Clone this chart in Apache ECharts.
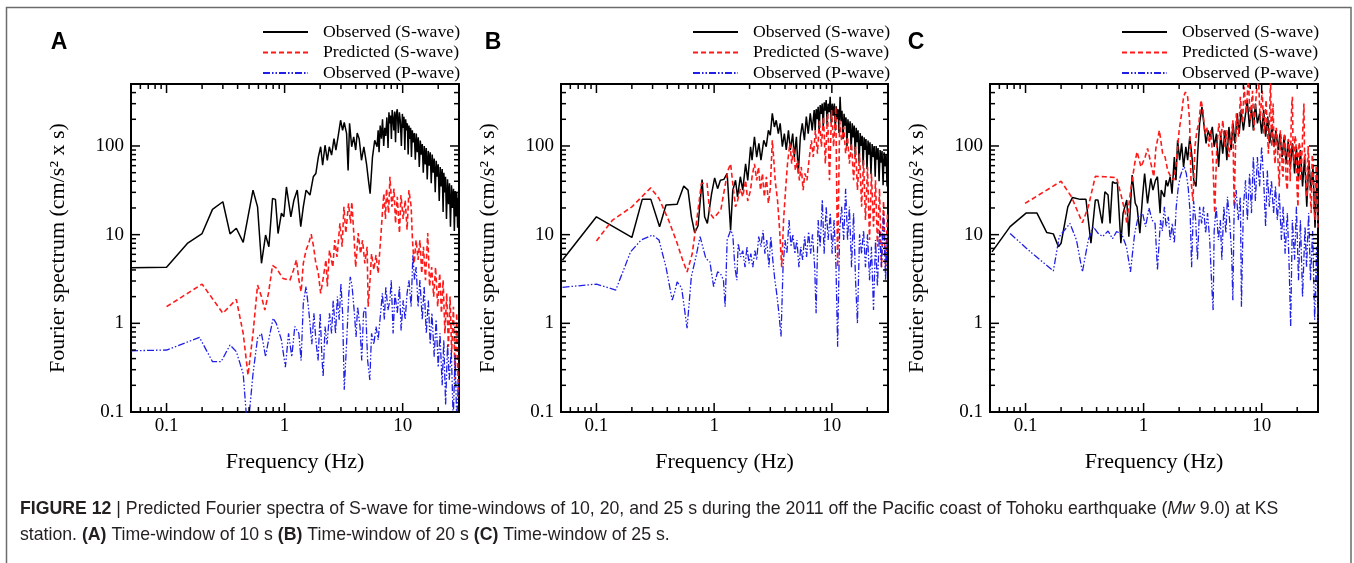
<!DOCTYPE html>
<html><head><meta charset="utf-8">
<script src="https://cdn.jsdelivr.net/npm/echarts@6/dist/echarts.min.js"></script>
<style>html,body{margin:0;padding:0;background:#fff}#c{width:1354px;height:563px}</style>
</head><body><div id="c"></div>
<script>
// ---- tick labels & tick positions ----
const xTickLabels = ['0.1', '1', '10'];
const yTickLabels = ['0.1', '1', '10', '100'];
const xMajorTicks = [0.1, 1, 10];
const xMinorTicks = [0.06, 0.07, 0.08, 0.09, 0.2, 0.3, 0.4, 0.5, 0.6, 0.7, 0.8, 0.9, 2, 3, 4, 5, 6, 7, 8, 9, 20];
const yMajorTicks = [0.1, 1, 10, 100];
const yMinorTicks = [0.2, 0.3, 0.4, 0.5, 0.6, 0.7, 0.8, 0.9, 2, 3, 4, 5, 6, 7, 8, 9, 20, 30, 40, 50, 60, 70, 80, 90, 200, 300, 400];
const seriesNames = ['Observed (S-wave)', 'Predicted (S-wave)', 'Observed (P-wave)'];
const panelLabels = ['A', 'B', 'C'];

// ---- Panel A (time-window 10 s) ----
const A_obsS = [[0.05,4.24],[0.1,4.3],[0.15,7.96],[0.2,10.3],[0.245,19.3],[0.3,23.5],[0.345,10.2],[0.39,11.8],[0.446,8.2],[0.54,31.8],[0.59,20.6],[0.637,4.75],[0.69,9.9],[0.736,7.3],[0.79,25.6],[0.836,25],[0.88,10.3],[0.94,17.5],[0.985,15.9],[1.036,34.5],[1.13,15.9],[1.2,24.6],[1.23,25.6],[1.28,31.8],[1.37,12.3],[1.44,20.6],[1.52,31.8],[1.64,28],[1.75,44.9],[1.84,49],[1.93,75],[2.02,98],[2.1,60.6],[2.2,102],[2.3,69],[2.39,98],[2.5,79],[2.62,121],[2.72,90],[2.85,132],[2.98,195],[3.1,150],[3.2,185],[3.35,138],[3.45,53],[3.55,180],[3.7,98],[3.85,127],[4.0,90],[4.12,140],[4.28,121],[4.48,69],[4.69,98],[4.94,63],[5.13,41],[5.3,29],[5.55,75],[5.8,116],[6.07,98],[6.2,150],[6.31,85],[6.45,170],[6.61,121],[6.75,200],[6.91,100],[7.05,160],[7.19,130],[7.35,210],[7.52,95],[7.65,240],[7.77,180],[7.9,220],[8.03,120],[8.15,254],[8.29,200],[8.42,150],[8.56,244],[8.7,110],[8.84,230],[9.0,260],[9.19,140],[9.38,240],[9.56,190],[9.75,100],[9.94,230],[10.1,160],[10.26,214],[10.43,90],[10.6,200],[10.78,150],[10.95,180],[11.13,80],[11.31,170],[11.5,120],[11.68,160],[11.87,75],[12.07,150],[12.3,110],[12.55,140],[12.8,70],[13.04,138],[13.3,85],[13.56,125],[13.83,58],[14.1,115],[14.38,80],[14.66,105],[14.95,50],[15.24,100],[15.54,62],[15.84,95],[16.15,42],[16.47,88],[16.8,60],[17.13,85],[17.46,38],[17.8,80],[18.15,50],[18.51,72],[18.87,30],[19.24,68],[19.62,45],[20,62],[20.4,24],[20.8,58],[21.2,35],[21.62,55],[22,18],[22.33,50],[22.7,30],[23.07,45],[23.5,15],[23.98,42],[24.45,22],[24.93,38],[25.4,12.3],[25.92,36],[26.4,20],[26.94,33],[27.4,11],[27.83,31],[28.3,16],[28.74,30],[29.2,12],[29.7,26]];
const A_predS = [[0.1,1.54],[0.2,2.77],[0.3,1.3],[0.39,1.86],[0.446,0.77],[0.49,0.26],[0.54,0.77],[0.59,2.7],[0.637,2.0],[0.68,1.41],[0.73,2.18],[0.79,4.5],[0.85,4.2],[0.97,3.2],[1.11,3.07],[1.19,4.0],[1.26,5.2],[1.32,3.1],[1.38,2.27],[1.44,4.75],[1.52,6.7],[1.6,8],[1.68,10.1],[1.76,7.3],[1.83,4.95],[1.93,3.66],[2.02,2.18],[2.12,3.2],[2.24,5.2],[2.3,2.6],[2.4,6.7],[2.56,4.3],[2.66,8.7],[2.78,5.6],[2.94,13.4],[3.07,7.3],[3.18,20.6],[3.3,10.4],[3.48,22.5],[3.62,13.4],[3.71,23.4],[3.87,9.5],[4.0,4.3],[4.2,10.4],[4.4,6.1],[4.57,8.7],[4.78,4.75],[5.0,7.3],[5.1,1.54],[5.3,3.2],[5.45,6.1],[5.7,4.0],[5.95,5.9],[6.2,3.66],[6.5,8.7],[6.73,17.5],[6.93,29],[7.15,15],[7.3,33],[7.6,17.5],[7.8,45],[8.1,20.6],[8.45,33],[8.7,13.4],[9.0,26.7],[9.4,10.4],[9.67,28],[10.1,15],[10.5,24.5],[10.9,11.4],[11.3,31.8],[11.8,20.6],[12.1,8.7],[12.5,4.75],[13.0,8.7],[13.5,5.2],[14.0,8.7],[14.5,3.66],[15.0,7.3],[15.6,3.07],[16.3,10.4],[16.9,2.6],[17.6,4.3],[18.3,2.0],[19.0,4.3],[19.8,1.54],[20.6,3.66],[21.3,1.3],[22.0,3.07],[22.8,0.77],[23.6,2.18],[24.4,0.545],[25.2,2.0],[26.0,0.47],[26.9,1.54],[27.8,0.23],[28.7,1.3],[29.6,0.15]];
const A_obsP = [[0.05,0.49],[0.1,0.5],[0.19,0.695],[0.245,0.37],[0.29,0.37],[0.345,0.57],[0.39,0.48],[0.446,0.27],[0.475,0.09],[0.5,0.09],[0.54,0.27],[0.59,0.68],[0.637,0.77],[0.69,0.42],[0.72,0.58],[0.8,1.14],[0.85,1.0],[0.94,0.65],[1.015,0.32],[1.08,0.77],[1.15,0.42],[1.22,0.92],[1.26,0.92],[1.32,0.77],[1.38,0.38],[1.44,1.68],[1.52,2.6],[1.6,1.41],[1.65,0.92],[1.7,0.58],[1.77,1.3],[1.84,0.65],[1.92,0.38],[2.0,1.3],[2.07,0.42],[2.12,0.25],[2.2,0.92],[2.29,0.58],[2.4,1.3],[2.5,0.77],[2.58,1.82],[2.7,0.77],[2.8,2.0],[2.9,1.1],[3.0,2.8],[3.1,1.3],[3.2,0.178],[3.36,0.65],[3.5,2.18],[3.6,3.35],[3.73,2.6],[3.9,1.3],[4.03,0.7],[4.15,1.54],[4.35,0.92],[4.5,0.38],[4.66,1.3],[4.85,1.54],[5.05,0.38],[5.27,0.23],[5.45,0.77],[5.7,0.58],[5.95,0.92],[6.2,0.65],[6.5,1.3],[6.73,2.18],[7.0,1.1],[7.2,2.6],[7.5,1.41],[7.8,1.82],[8.0,3.07],[8.3,0.77],[8.6,2.18],[9.0,1.3],[9.4,2.6],[9.7,0.83],[10.1,1.82],[10.5,1.1],[10.9,2.18],[11.3,3.07],[11.8,1.54],[12.2,5.9],[12.6,3.07],[13.0,4.3],[13.5,1.54],[14.0,3.07],[14.65,1.1],[15.2,2.6],[15.85,0.77],[16.5,1.82],[17.1,0.58],[17.7,1.3],[18.5,0.42],[19.2,1.1],[20,0.32],[20.7,0.77],[21.6,0.2],[22.3,0.65],[23.1,0.12],[24,0.58],[24.8,0.23],[25.8,0.5],[26.8,0.08],[27.8,0.44],[28.7,0.08],[29.7,0.23]];

// ---- Panel B (time-window 20 s) ----
const B_obsS = [[0.0515,5.17],[0.1,15.9],[0.2,9.3],[0.245,25],[0.29,25],[0.344,12.3],[0.39,21.6],[0.485,22],[0.552,35.3],[0.6,31.8],[0.641,15.9],[0.684,10.5],[0.73,12.6],[0.79,41.8],[0.83,15.9],[0.876,13.4],[0.95,28.7],[1.01,43.6],[1.07,33],[1.13,41],[1.21,42],[1.29,49],[1.38,11.2],[1.44,31.8],[1.52,41],[1.58,26.7],[1.67,45],[1.75,31.8],[1.85,63],[1.93,41],[2.04,98],[2.1,69],[2.2,127],[2.3,75],[2.4,107],[2.5,69],[2.64,116],[2.77,98],[2.89,150],[3.0,132],[3.12,233],[3.25,164],[3.37,195],[3.51,138],[3.64,180],[3.8,98],[3.95,138],[4.1,90],[4.28,150],[4.44,90],[4.65,138],[4.8,75],[5.0,127],[5.19,49],[5.4,127],[5.61,180],[5.85,116],[6.07,214],[6.3,138],[6.56,233],[6.81,150],[7.08,254],[7.22,150],[7.36,260],[7.5,200],[7.65,277],[7.8,140],[7.96,290],[8.12,230],[8.28,301],[8.45,160],[8.61,310],[8.78,250],[8.95,330],[9.12,170],[9.3,300],[9.5,240],[9.68,358],[9.88,180],[10.07,300],[10.3,220],[10.5,301],[10.7,150],[10.9,280],[11.1,200],[11.3,260],[11.5,140],[11.75,358],[12.0,190],[12.2,250],[12.45,120],[12.7,230],[12.95,170],[13.2,210],[13.45,100],[13.7,200],[14.0,140],[14.3,190],[14.6,90],[14.9,180],[15.2,125],[15.5,170],[15.8,75],[16.1,160],[16.4,110],[16.7,150],[17.05,65],[17.4,140],[17.75,100],[18.1,130],[18.45,60],[18.8,125],[19.15,90],[19.5,120],[19.9,55],[20.3,115],[20.7,80],[21.1,110],[21.5,48],[22,105],[22.45,75],[22.9,100],[23.35,45],[23.8,100],[24.25,70],[24.7,95],[25.2,40],[25.7,90],[26.2,65],[26.7,88],[27.25,36],[27.8,85],[28.35,60],[28.9,80],[29.45,35],[30,60]];
const B_predS = [[0.1,8.5],[0.137,14.6],[0.2,20.6],[0.289,33.7],[0.34,25.6],[0.41,14.6],[0.485,8],[0.54,5.17],[0.589,3.8],[0.65,6.0],[0.7,12.3],[0.78,38],[0.87,38],[0.92,17.5],[0.99,15.3],[1.09,17.8],[1.14,19],[1.22,31.8],[1.31,53],[1.38,63],[1.43,41],[1.52,20.6],[1.58,24],[1.67,33],[1.75,26.7],[1.85,41],[1.93,24],[2.04,31.8],[2.1,45],[2.2,63],[2.3,41],[2.38,58],[2.48,31.8],[2.57,49],[2.67,26.7],[2.78,45],[2.89,22.5],[3.0,33],[3.12,116],[3.2,75],[3.3,41],[3.46,24],[3.6,11.3],[3.75,4.3],[3.89,14.6],[4.05,33],[4.2,63],[4.4,107],[4.56,63],[4.73,98],[4.9,53],[5.1,69],[5.3,41],[5.5,58],[5.7,31.8],[5.9,49],[6.15,41],[6.4,69],[6.7,116],[6.95,75],[7.25,150],[7.55,82],[7.85,195],[8.15,98],[8.5,214],[8.8,63],[9.2,233],[9.55,41],[9.95,254],[10.35,98],[10.8,277],[11.2,4.3],[11.65,195],[12.1,116],[12.6,164],[13.1,82],[13.6,127],[14.1,63],[14.7,107],[15.3,41],[15.9,98],[16.5,31.8],[17.2,82],[17.9,20.6],[18.6,69],[19.3,14.6],[20.1,58],[20.9,8.7],[21.7,49],[22.6,12.3],[23.5,41],[24.4,7.3],[25.4,33],[26.4,4.3],[27.5,24],[28.6,4.3],[29.7,17.5]];
const B_obsP = [[0.0515,2.55],[0.1,2.77],[0.146,2.37],[0.195,6.4],[0.24,8.7],[0.3,9.9],[0.34,8.7],[0.39,4.3],[0.44,1.83],[0.46,2.2],[0.485,2.94],[0.53,2.5],[0.589,0.88],[0.64,3.35],[0.7,5.6],[0.76,9.5],[0.8,7.3],[0.85,5.4],[0.92,4.95],[0.99,2.6],[1.07,3.8],[1.13,3.66],[1.2,3.07],[1.24,1.54],[1.29,8.7],[1.38,11.2],[1.44,10.1],[1.5,4.3],[1.56,3.07],[1.6,8],[1.68,5.6],[1.75,6.6],[1.83,4.3],[1.9,7.3],[1.98,4.75],[2.05,6.1],[2.13,4.3],[2.22,6.6],[2.3,5.2],[2.39,9.5],[2.5,7.3],[2.6,11.2],[2.7,6.1],[2.8,8.7],[2.92,4.3],[3.03,9.5],[3.15,5.2],[3.28,3.07],[3.4,2.18],[3.55,1.3],[3.7,0.71],[3.85,4.3],[4.0,8.7],[4.15,6.1],[4.33,14.6],[4.5,7.3],[4.67,10.1],[4.85,6.1],[5.05,8.7],[5.25,4.3],[5.45,7.3],[5.65,5.2],[5.87,9.5],[6.1,5.6],[6.35,10.8],[6.6,6.1],[6.85,10.1],[7.15,4.3],[7.35,1.3],[7.65,14.6],[7.95,7.3],[8.3,24.6],[8.6,6.1],[8.95,20.6],[9.3,8.7],[9.7,17.5],[10.05,6.1],[10.45,14.6],[10.85,4.3],[11.2,0.545],[11.65,11.2],[12.1,20.6],[12.6,8.7],[13.1,33],[13.6,8.7],[14.1,20.6],[14.7,4.3],[15.3,17.5],[15.9,3.07],[16.5,1.0],[17.2,10.1],[17.9,6.1],[18.6,11.2],[19.3,4.3],[20.1,10.1],[20.9,3.07],[21.7,7.3],[22.6,1.41],[23.5,8.7],[24.4,2.6],[25.4,11.2],[26.4,4.3],[27.5,17.5],[28.6,3.07],[29.7,10.1]];

// ---- Panel C (time-window 25 s) ----
const C_obsS = [[0.052,6.4],[0.074,12.3],[0.101,17.5],[0.125,17.5],[0.151,10.6],[0.172,10.2],[0.19,7.3],[0.2,8],[0.228,20.6],[0.25,26.3],[0.29,25],[0.325,25],[0.358,8],[0.39,24.6],[0.41,24.6],[0.446,13.4],[0.47,30.5],[0.5,28],[0.52,13.4],[0.545,39.5],[0.57,38],[0.6,38.5],[0.642,8],[0.67,17.5],[0.72,24.6],[0.75,9.5],[0.8,47],[0.85,22.5],[0.88,20.6],[0.93,10.4],[0.98,27],[1.02,49],[1.08,22.5],[1.15,43],[1.2,31.8],[1.26,41],[1.31,45],[1.38,17.5],[1.41,31.8],[1.5,26.7],[1.55,41],[1.6,35],[1.68,45],[1.74,29],[1.82,75],[1.88,41],[1.94,116],[2.02,69],[2.1,107],[2.18,58],[2.28,98],[2.36,69],[2.46,127],[2.57,75],[2.66,41],[2.78,35],[2.87,82],[2.98,180],[3.12,277],[3.26,164],[3.38,107],[3.52,150],[3.66,127],[3.82,164],[3.96,98],[4.14,138],[4.32,58],[4.5,138],[4.68,82],[4.88,150],[5.07,69],[5.28,164],[5.5,90],[5.72,180],[5.95,107],[6.2,233],[6.45,138],[6.7,254],[7.0,150],[7.25,214],[7.55,330],[7.87,164],[8.2,277],[8.5,150],[8.85,301],[9.2,180],[9.6,233],[10.0,138],[10.4,254],[10.8,127],[11.25,214],[11.7,107],[12.2,164],[12.7,98],[13.2,150],[13.8,90],[14.3,138],[14.9,75],[15.5,127],[16.1,63],[16.8,116],[17.5,58],[18.2,107],[19,49],[19.7,98],[20.5,41],[21.3,90],[22.2,35],[23.1,75],[24.1,20.6],[25.1,69],[26.1,31.8],[27.2,58],[28.3,12],[29.4,49],[30,26.7]];
const C_predS = [[0.099,22.5],[0.2,40],[0.245,26.7],[0.303,13.6],[0.34,20.6],[0.39,45.5],[0.47,45],[0.59,44],[0.65,26.7],[0.7,17.5],[0.72,13.4],[0.77,29],[0.84,63],[0.88,86],[0.95,58],[1.03,75],[1.08,94],[1.17,58],[1.22,45],[1.27,94],[1.36,150],[1.45,82],[1.52,75],[1.6,53],[1.7,45],[1.8,41],[1.87,58],[1.94,94],[2.0,150],[2.1,233],[2.18,358],[2.26,405],[2.36,358],[2.45,195],[2.52,41],[2.62,24],[2.72,98],[2.83,150],[2.94,180],[3.06,330],[3.18,254],[3.3,138],[3.43,164],[3.57,98],[3.71,150],[3.86,69],[4.0,17.5],[4.17,98],[4.34,180],[4.5,116],[4.69,195],[4.87,98],[5.07,150],[5.27,75],[5.48,116],[5.7,195],[5.84,20.6],[6.1,233],[6.37,127],[6.6,358],[6.9,180],[7.1,465],[7.4,233],[7.7,600],[8.0,195],[8.37,420],[8.6,150],[9.0,390],[9.4,600],[9.7,195],[10.1,420],[10.46,138],[10.9,330],[11.4,82],[11.65,200],[11.9,600],[12.05,150],[12.2,98],[12.35,200],[12.5,301],[12.75,80],[13.0,63],[13.3,160],[13.56,127],[13.8,60],[14.1,35],[14.4,150],[14.7,116],[14.95,50],[15.2,45],[15.5,130],[15.8,138],[16.1,40],[16.5,31.8],[16.8,120],[17.1,107],[17.45,40],[17.8,195],[18.0,300],[18.2,358],[18.45,90],[18.75,63],[19.1,130],[19.5,116],[19.9,35],[20.3,20.6],[20.7,110],[21.1,98],[21.5,40],[21.9,41],[22.3,150],[22.8,301],[23.1,70],[23.4,82],[23.85,30],[24.3,26.7],[24.75,100],[25.2,98],[25.75,30],[26.3,17.5],[26.8,80],[27.3,63],[27.85,20],[28.4,14.6],[28.95,60],[29.5,41],[29.9,12]];
const C_obsP = [[0.074,10.3],[0.113,6.2],[0.172,3.9],[0.193,9.5],[0.238,13.4],[0.27,8.7],[0.303,3.8],[0.34,8.7],[0.375,12.3],[0.41,10.4],[0.45,9.5],[0.5,11],[0.545,9],[0.59,10.8],[0.65,10.3],[0.716,7.3],[0.774,3.8],[0.84,10.3],[0.9,15.9],[0.98,17.5],[1.04,12.3],[1.11,20],[1.18,14.6],[1.25,13.4],[1.31,4.0],[1.39,14.6],[1.44,11],[1.5,20.6],[1.55,12.3],[1.62,15.9],[1.68,8.7],[1.75,13.4],[1.82,8],[1.89,20.6],[1.96,33],[2.04,45],[2.12,53],[2.21,58],[2.3,49],[2.39,33],[2.48,17.5],[2.55,4.3],[2.65,24],[2.76,14.6],[2.86,5.2],[2.98,20.6],[3.1,13.4],[3.22,20.6],[3.35,10.4],[3.48,17.5],[3.63,8.7],[3.78,2.6],[3.88,1.41],[3.96,11],[4.12,20.6],[4.3,8.7],[4.47,14.6],[4.6,5.2],[4.78,20.6],[4.98,10.4],[5.13,26.7],[5.35,14.6],[5.57,6.1],[5.7,1.82],[5.84,17.5],[6.08,31.8],[6.33,14.6],[6.6,26.7],[6.74,1.54],[7.0,20.6],[7.3,41],[7.57,14.6],[7.9,49],[8.2,17.5],[8.5,75],[8.85,24],[9.2,75],[9.6,35],[10.0,98],[10.4,41],[10.8,12.3],[11.16,53],[11.6,20.6],[12.1,41],[12.6,17.5],[13.1,35],[13.56,14.6],[14.1,29],[14.7,8.7],[15.2,20.6],[15.8,6.1],[16.5,17.5],[17.1,4.3],[17.6,0.92],[18.2,14.6],[19,5.2],[19.7,20.6],[20.5,3.07],[21.3,14.6],[22.2,2.0],[23.3,12.3],[24,4.3],[25,17.5],[25.9,3.07],[27,11],[28.1,1.1],[29.2,7.3],[29.9,1.0]];

const panels = [[A_obsS, A_predS, A_obsP], [B_obsS, B_predS, B_obsP], [C_obsS, C_predS, C_obsP]];

// ---- layout / style (not data) ----
const gridBoxes = [{left:131, top:84, width:328, height:328}, {left:561, top:84, width:327, height:328}, {left:990, top:84, width:328, height:328}];
const legendLeft = [262, 692, 1121];
const labelPos = [[59, 43], [493, 43], [916, 43]];
const SERIF = 'Liberation Serif, Times New Roman, serif';
const SANS = 'Liberation Sans, Arial, sans-serif';
const lineStyles = [
  {color:'#000000', width:1.5, type:'solid'},
  {color:'#ff1a1a', width:1.6, type:[5, 3]},
  {color:'#1f1fe6', width:1.3, type:[7, 2, 1.5, 2, 1.5, 2]}
];

function fmt(list) {
  return function (v) {
    const s = String(parseFloat(Number(v).toPrecision(6)));
    return list.indexOf(s) >= 0 ? s : '';
  };
}

function tickSeries(gi) {
  const data = [];
  xMajorTicks.forEach(v => data.push([v, 1, 0]));
  xMinorTicks.forEach(v => data.push([v, 1, 1]));
  yMajorTicks.forEach(v => data.push([1, v, 2]));
  yMinorTicks.forEach(v => data.push([1, v, 3]));
  return {
    type: 'custom', xAxisIndex: gi, yAxisIndex: gi, data: data, silent: true, z: 6,
    encode: {x: 0, y: 1},
    renderItem: function (params, api) {
      const cs = params.coordSys;
      const k = api.value(2);
      const st = {stroke: '#000', lineWidth: 1.5};
      if (k < 2) {
        const x = api.coord([api.value(0), 1])[0];
        const L = k === 0 ? 9 : 5;
        return {type: 'group', children: [
          {type: 'line', shape: {x1: x, y1: cs.y + cs.height, x2: x, y2: cs.y + cs.height - L}, style: st},
          {type: 'line', shape: {x1: x, y1: cs.y, x2: x, y2: cs.y + L}, style: st}
        ]};
      } else {
        const y = api.coord([1, api.value(1)])[1];
        const L = k === 2 ? 9 : 5;
        return {type: 'group', children: [
          {type: 'line', shape: {x1: cs.x, y1: y, x2: cs.x + L, y2: y}, style: st},
          {type: 'line', shape: {x1: cs.x + cs.width, y1: y, x2: cs.x + cs.width - L, y2: y}, style: st}
        ]};
      }
    }
  };
}

const grid = gridBoxes.map(g => Object.assign({show: true, borderColor: '#000', borderWidth: 2, backgroundColor: 'transparent', containLabel: false}, g));
const xAxis = gridBoxes.map((g, i) => ({
  type: 'log', logBase: 10, gridIndex: i, min: 0.05, max: 30,
  axisLine: {show: false}, axisTick: {show: false}, splitLine: {show: false}, minorTick: {show: false},
  axisLabel: {formatter: fmt(xTickLabels), fontFamily: SERIF, fontSize: 19, color: '#000', margin: 5},
  name: 'Frequency (Hz)', nameLocation: 'middle', nameGap: 39,
  nameTextStyle: {fontFamily: SERIF, fontSize: 22, color: '#000'}
}));
const yAxis = gridBoxes.map((g, i) => ({
  type: 'log', logBase: 10, gridIndex: i, min: 0.1, max: 500,
  axisLine: {show: false}, axisTick: {show: false}, splitLine: {show: false}, minorTick: {show: false},
  axisLabel: {formatter: fmt(yTickLabels), fontFamily: SERIF, fontSize: 19, color: '#000', margin: 7},
  name: 'Fourier spectrum (cm/s\u00B2 x s)', nameLocation: 'middle', nameGap: 62, nameRotate: 90,
  nameTextStyle: {fontFamily: SERIF, fontSize: 22, color: '#000'}
}));

const series = [];
panels.forEach((sets, gi) => {
  sets.forEach((d, k) => {
    series.push({
      type: 'line', name: seriesNames[k], xAxisIndex: gi, yAxisIndex: gi, data: d,
      symbol: 'none', showSymbol: false, clip: true, z: 2 + k,
      lineStyle: lineStyles[k], itemStyle: {color: lineStyles[k].color},
      emphasis: {disabled: true}
    });
  });
  series.push(tickSeries(gi));
});

const legend = legendLeft.map(l => ({
  left: l, top: 23, orient: 'vertical', padding: 0, itemWidth: 45, itemHeight: 14, itemGap: 2.5,
  selectedMode: false, data: seriesNames,
  itemStyle: {opacity: 0, borderWidth: 0},
  textStyle: {fontFamily: SERIF, fontSize: 17.7, color: '#000', padding: [0, 0, 0, 10], lineHeight: 14}
}));

const graphic = [
  {type: 'rect', silent: true, z: -10, shape: {x: 6.5, y: 7.5, width: 1344.5, height: 600}, style: {fill: null, stroke: '#6b6b6b', lineWidth: 1.5}}
];
panelLabels.forEach((t, i) => graphic.push({
  type: 'text', silent: true, x: labelPos[i][0], y: labelPos[i][1],
  style: {text: t, fontFamily: SANS, fontWeight: 'bold', fontSize: 23, fill: '#000', align: 'center', verticalAlign: 'middle'}
}));
const capSize = 17.7;
graphic.push({
  type: 'text', silent: true, x: 20, y: 509,
  style: {
    text: '{b|FIGURE 12} | Predicted Fourier spectra of S-wave for time-windows of 10, 20, and 25 s during the 2011 off the Pacific coast of Tohoku earthquake ({i|Mw} 9.0) at KS',
    fontFamily: SANS, fontSize: capSize, fill: '#231f20', verticalAlign: 'middle',
    rich: {b: {fontFamily: SANS, fontSize: capSize, fontWeight: 'bold', fill: '#231f20'}, i: {fontFamily: SANS, fontSize: capSize, fontStyle: 'italic', fill: '#231f20'}}
  }
});
graphic.push({
  type: 'text', silent: true, x: 20, y: 535,
  style: {
    text: 'station. {b|(A)} Time-window of 10 s {b|(B)} Time-window of 20 s {b|(C)} Time-window of 25 s.',
    fontFamily: SANS, fontSize: capSize, fill: '#231f20', verticalAlign: 'middle',
    rich: {b: {fontFamily: SANS, fontSize: capSize, fontWeight: 'bold', fill: '#231f20'}}
  }
});

const chart = echarts.init(document.getElementById('c'), null, {renderer: 'canvas'});
chart.setOption({
  animation: false,
  backgroundColor: '#fff',
  grid: grid, xAxis: xAxis, yAxis: yAxis, series: series, legend: legend, graphic: graphic
});
</script>
</body></html>
